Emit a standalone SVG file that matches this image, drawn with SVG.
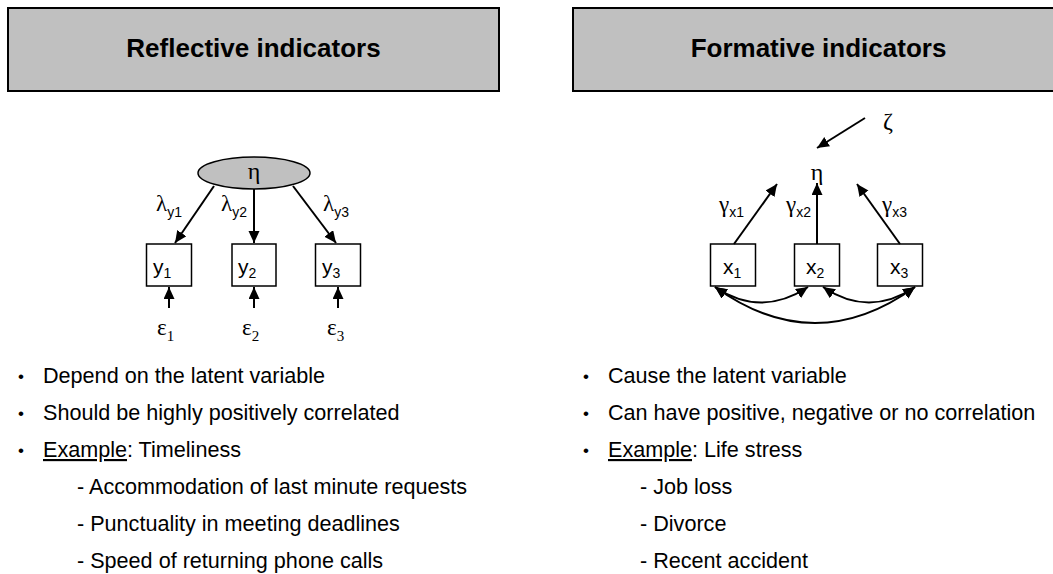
<svg xmlns="http://www.w3.org/2000/svg" width="1053" height="574" viewBox="0 0 1053 574">
  <style>
    .hdr { fill: #c0c0c0; stroke: #000; stroke-width: 2; }
    .hdr-t { font-family: "Liberation Sans", Arial, sans-serif; font-weight: bold; font-size: 26px; fill: #000; text-anchor: middle; }
    .box { fill: #fff; stroke: #000; stroke-width: 1.5; }
    .lat { fill: #c0c0c0; stroke: #000; stroke-width: 1.5; }
    .greek { font-family: "Liberation Serif", "Times New Roman", serif; font-size: 24px; fill: #000; }
    .coef { font-family: "Liberation Serif", "Times New Roman", serif; font-size: 23px; fill: #000; }
    .sub { font-family: "Liberation Sans", Arial, sans-serif; font-size: 14px; fill: #000; }
    .subs { font-family: "Liberation Serif", "Times New Roman", serif; font-size: 15px; fill: #000; }
    .var { font-family: "Liberation Sans", Arial, sans-serif; font-size: 21px; fill: #000; }
    .vsub { font-family: "Liberation Sans", Arial, sans-serif; font-size: 14px; fill: #000; }
    .body { font-family: "Liberation Sans", Arial, sans-serif; font-size: 21.6px; fill: #000; }
    .dot { font-family: "Liberation Sans", Arial, sans-serif; font-size: 17px; fill: #000; text-anchor: middle; }
    .edge { fill: none; stroke: #000; stroke-width: 2; }
  </style>
  <defs>
    <marker id="arr" markerUnits="userSpaceOnUse" markerWidth="14" markerHeight="12" refX="12" refY="5.5" orient="auto-start-reverse">
      <path d="M0,0 L12,5.5 L0,11 z" fill="#000"/>
    </marker>
  </defs>

  <!-- Header panels -->
  <g id="header-reflective">
    <rect class="hdr" x="8" y="8" width="491" height="83"/>
    <text class="hdr-t" x="253.5" y="57">Reflective indicators</text>
  </g>
  <g id="header-formative">
    <rect class="hdr" x="573" y="8" width="500" height="83"/>
    <text class="hdr-t" x="818.5" y="57">Formative indicators</text>
  </g>

  <!-- Reflective model nodes -->
  <g id="eta-reflective">
    <ellipse class="lat" cx="254" cy="173" rx="56" ry="16"/>
    <text class="greek" x="254" y="179" text-anchor="middle">η</text>
  </g>
  <g id="y1">
    <rect class="box" x="146.5" y="244" width="45" height="42"/>
    <text x="153" y="274"><tspan class="var">y</tspan><tspan class="vsub" dy="4">1</tspan></text>
  </g>
  <g id="y2">
    <rect class="box" x="232" y="244" width="44" height="42"/>
    <text x="238" y="274"><tspan class="var">y</tspan><tspan class="vsub" dy="4">2</tspan></text>
  </g>
  <g id="y3">
    <rect class="box" x="315.5" y="244" width="45" height="42"/>
    <text x="322" y="274"><tspan class="var">y</tspan><tspan class="vsub" dy="4">3</tspan></text>
  </g>
  <g id="eps1"><text x="157" y="335"><tspan class="coef">ε</tspan><tspan class="subs" dy="6">1</tspan></text></g>
  <g id="eps2"><text x="242" y="335"><tspan class="coef">ε</tspan><tspan class="subs" dy="6">2</tspan></text></g>
  <g id="eps3"><text x="327" y="335"><tspan class="coef">ε</tspan><tspan class="subs" dy="6">3</tspan></text></g>

  <!-- Formative model nodes -->
  <g id="zeta"><text class="greek" x="888" y="129" text-anchor="middle">ζ</text></g>
  <g id="eta-formative"><text class="greek" x="817" y="180" text-anchor="middle">η</text></g>
  <g id="x1">
    <rect class="box" x="710.5" y="244" width="45" height="42"/>
    <text x="723" y="274"><tspan class="var">x</tspan><tspan class="vsub" dy="4">1</tspan></text>
  </g>
  <g id="x2">
    <rect class="box" x="794.5" y="244" width="45" height="42"/>
    <text x="806" y="274"><tspan class="var">x</tspan><tspan class="vsub" dy="4">2</tspan></text>
  </g>
  <g id="x3">
    <rect class="box" x="877.5" y="244" width="45" height="42"/>
    <text x="890" y="274"><tspan class="var">x</tspan><tspan class="vsub" dy="4">3</tspan></text>
  </g>

  <!-- Connectors -->
  <g id="connectors">
    <line class="edge" x1="214" y1="186" x2="175" y2="243" marker-end="url(#arr)"/>
    <line class="edge" x1="254" y1="189" x2="254" y2="243" marker-end="url(#arr)"/>
    <line class="edge" x1="293" y1="186" x2="336" y2="243" marker-end="url(#arr)"/>
    <line class="edge" x1="169" y1="308" x2="169" y2="287" marker-end="url(#arr)"/>
    <line class="edge" x1="254" y1="308" x2="254" y2="287" marker-end="url(#arr)"/>
    <line class="edge" x1="338" y1="308" x2="338" y2="287" marker-end="url(#arr)"/>

    <line class="edge" x1="865" y1="118" x2="817" y2="148" marker-end="url(#arr)"/>
    <line class="edge" x1="734" y1="244" x2="777" y2="184" marker-end="url(#arr)"/>
    <line class="edge" x1="817" y1="244" x2="817" y2="183" marker-end="url(#arr)"/>
    <line class="edge" x1="900" y1="244" x2="857" y2="184" marker-end="url(#arr)"/>

    <path class="edge" d="M715,287 Q761,318 808,287" marker-start="url(#arr)" marker-end="url(#arr)"/>
    <path class="edge" d="M823,287 Q869,318 915,287" marker-start="url(#arr)" marker-end="url(#arr)"/>
    <path class="edge" d="M715,287 Q815,359 915,287" marker-start="url(#arr)" marker-end="url(#arr)"/>
  </g>

  <!-- Path coefficient labels -->
  <g id="coef-labels">
    <text x="156" y="211"><tspan class="coef">λ</tspan><tspan class="sub" dy="6">y1</tspan></text>
    <text x="221" y="211"><tspan class="coef">λ</tspan><tspan class="sub" dy="6">y2</tspan></text>
    <text x="323" y="211"><tspan class="coef">λ</tspan><tspan class="sub" dy="6">y3</tspan></text>
    <text x="719" y="212"><tspan class="coef">γ</tspan><tspan class="sub" dy="5">x1</tspan></text>
    <text x="786" y="212"><tspan class="coef">γ</tspan><tspan class="sub" dy="5">x2</tspan></text>
    <text x="882" y="212"><tspan class="coef">γ</tspan><tspan class="sub" dy="5">x3</tspan></text>
  </g>

  <!-- Bullet lists -->
  <g id="list-reflective">
    <text class="dot" x="21" y="382">•</text>
    <text class="body" x="43" y="383">Depend on the latent variable</text>
    <text class="dot" x="21" y="419">•</text>
    <text class="body" x="43" y="420">Should be highly positively correlated</text>
    <text class="dot" x="21" y="456">•</text>
    <text class="body" x="43" y="457"><tspan text-decoration="underline">Example</tspan>: Timeliness</text>
    <text class="body" x="77" y="494">- Accommodation of last minute requests</text>
    <text class="body" x="77" y="531">- Punctuality in meeting deadlines</text>
    <text class="body" x="77" y="568">- Speed of returning phone calls</text>
  </g>
  <g id="list-formative">
    <text class="dot" x="586" y="382">•</text>
    <text class="body" x="608" y="383">Cause the latent variable</text>
    <text class="dot" x="586" y="419">•</text>
    <text class="body" x="608" y="420">Can have positive, negative or no correlation</text>
    <text class="dot" x="586" y="456">•</text>
    <text class="body" x="608" y="457"><tspan text-decoration="underline">Example</tspan>: Life stress</text>
    <text class="body" x="640" y="494">- Job loss</text>
    <text class="body" x="640" y="531">- Divorce</text>
    <text class="body" x="640" y="568">- Recent accident</text>
  </g>
</svg>
